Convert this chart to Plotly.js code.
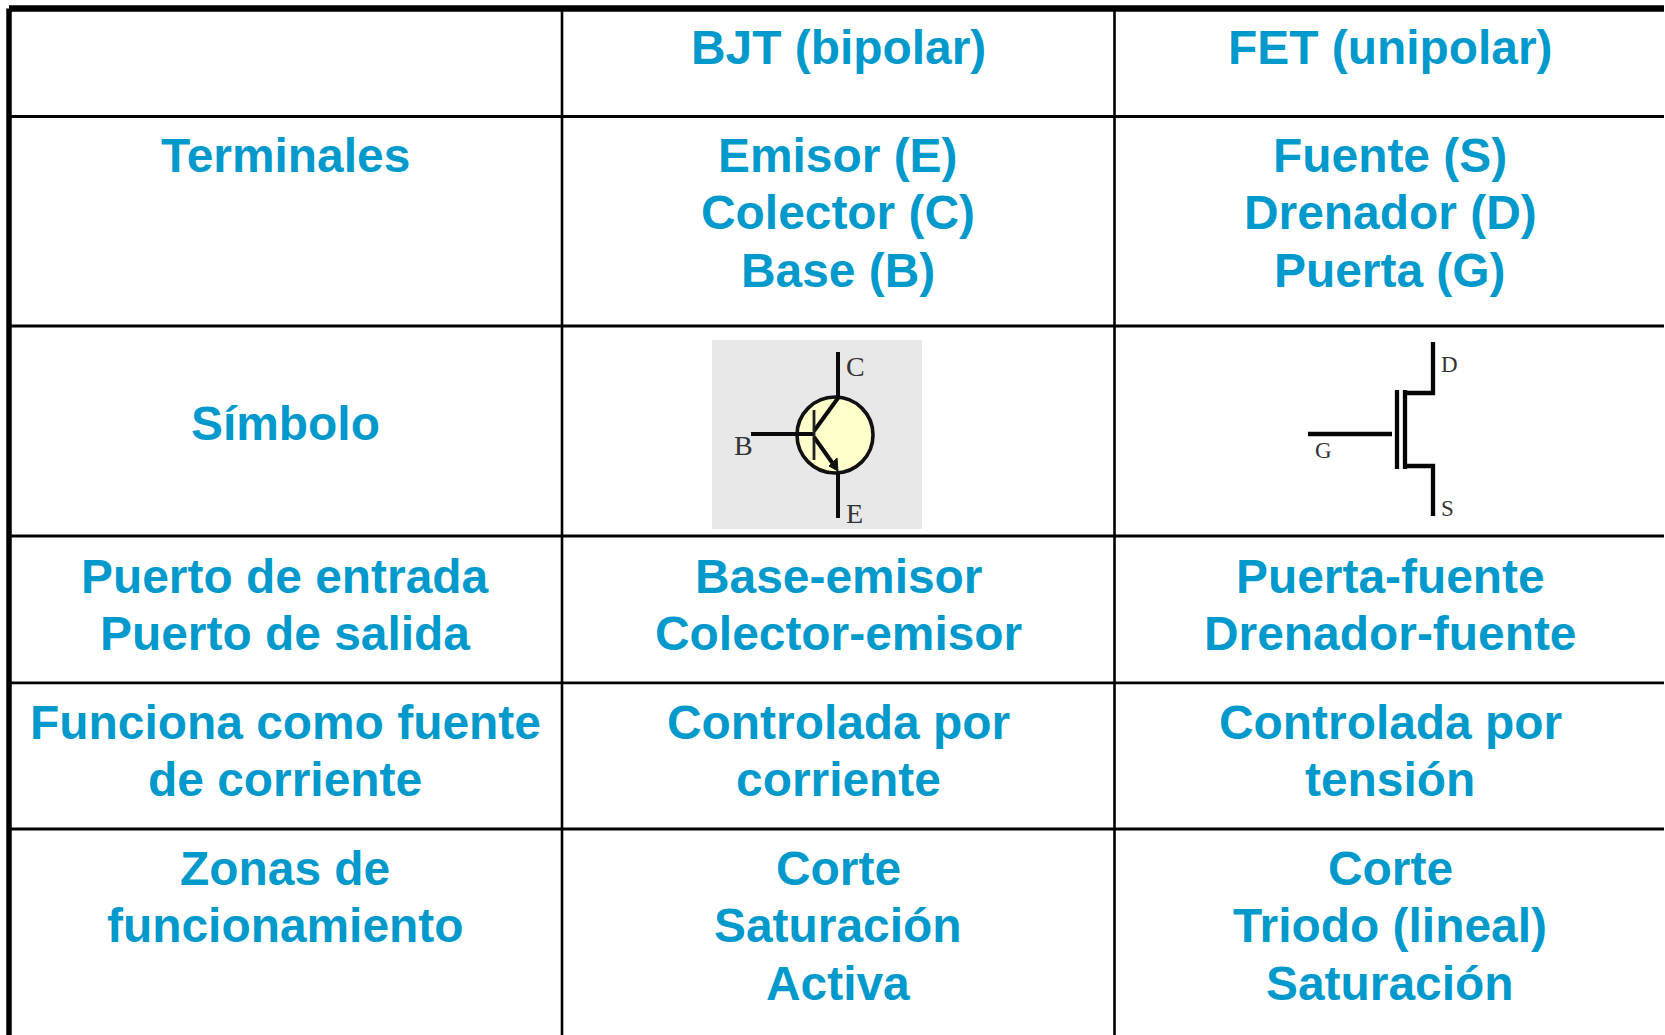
<!DOCTYPE html>
<html><head><meta charset="utf-8">
<script src="https://cdn.plot.ly/plotly-3.0.1.min.js"></script>
<style>html,body{margin:0;padding:0;background:#fff}#c{width:1665px;height:1035px}</style></head>
<body><div id="c"></div>
<script>
// Table content: one entry per text line
const col1 = ["Terminales","Símbolo","Puerto de entrada","Puerto de salida","Funciona como fuente","de corriente","Zonas de","funcionamiento"];
const col1Y = [155,423,576,633,722,779.5,868.5,925];
const col2 = ["BJT (bipolar)","Emisor (E)","Colector (C)","Base (B)","Base-emisor","Colector-emisor","Controlada por","corriente","Corte","Saturación","Activa"];
const col2Y = [47,155,212.5,270,576,633,722,779.5,868.5,925,983];
const col3 = ["FET (unipolar)","Fuente (S)","Drenador (D)","Puerta (G)","Puerta-fuente","Drenador-fuente","Controlada por","tensión","Corte","Triodo (lineal)","Saturación"];
const col3Y = [47,155,212.5,270,576,633,722,779.5,868.5,925,983];
const colX = [285,838,1390];

// Grid
const hRows = [116.5,326,536,682.8,829];
const vCols = [562,1114.5];
const gridTop = 8.5, gridLeft = 9, xMax = 1664, yMax = 1035;

// Symbols: polyline paths, [x list, y list]
const bjtLines = [
  [[838,838],[352,398]],
  [[838,838],[473,518]],
  [[751,814],[434,434]],
  [[814,838],[431,398]],
  [[814,836],[437,468]]
];
const bjtBar = [[814,814],[410,460]];
const bjtArrow = [[829,837,838,829],[466,458,471,466]];
const bjtLabels = [["C",855,366],["B",743,445],["E",854,513]];
const fetLines = [
  [[1308,1392],[434,434]],
  [[1397,1397],[390,469]],
  [[1405,1405],[390,469]],
  [[1405,1433,1433],[393,393,342]],
  [[1405,1433,1433],[466,466,516]]
];
const fetLabels = [["D",1449,364],["G",1323,450],["S",1447,508]];

const BLUE = "#0099cc", INK = "#000000";
const traces = [];
const seg = (x,y,w,c) => traces.push({type:"scatter",mode:"lines",x,y,line:{color:c||INK,width:w},hoverinfo:"skip",showlegend:false});

hRows.forEach(y => seg([gridLeft,xMax],[y,y],2.8));
vCols.forEach(x => seg([x,x],[gridTop,yMax],2.6));
seg([gridLeft,gridLeft],[gridTop,yMax],5.5);
seg([gridLeft,xMax],[gridTop,gridTop],6.5);

bjtLines.forEach(l => seg(l[0],l[1],4,"#0a0a0a"));
seg(bjtBar[0],bjtBar[1],2.8,"#222");
traces.push({type:"scatter",mode:"lines",x:bjtArrow[0],y:bjtArrow[1],fill:"toself",fillcolor:"#111",line:{color:"#111",width:1},hoverinfo:"skip",showlegend:false});
fetLines.forEach(l => seg(l[0],l[1],4.3,"#050505"));

const ann = [];
const addCol = (lines,ys,x) => lines.forEach((t,i) => ann.push({x,y:ys[i],text:"<b>"+t+"</b>",showarrow:false,xanchor:"center",yanchor:"middle",
  font:{family:"Liberation Sans, Arial, sans-serif",size:47.9,color:BLUE}}));
addCol(col1,col1Y,colX[0]); addCol(col2,col2Y,colX[1]); addCol(col3,col3Y,colX[2]);
const addLbl = (arr,size) => arr.forEach(l => ann.push({x:l[1],y:l[2],text:l[0],showarrow:false,xanchor:"center",yanchor:"middle",
  font:{family:"Liberation Serif, serif",size,color:"#333"}}));
addLbl(bjtLabels,28); addLbl(fetLabels,23);

const layout = {
  width:1665,height:1035,margin:{l:0,r:0,t:0,b:0},paper_bgcolor:"#fff",plot_bgcolor:"#fff",showlegend:false,
  xaxis:{range:[0,1665],visible:false,fixedrange:true},
  yaxis:{range:[1035,0],visible:false,fixedrange:true},
  annotations:ann,
  shapes:[
    {type:"rect",layer:"below",x0:712,x1:922,y0:340,y1:529,fillcolor:"#e8e8e8",line:{width:0}},
    {type:"circle",layer:"below",x0:797,x1:873,y0:397,y1:473,fillcolor:"#ffffcc",line:{color:"#111",width:3.6}}
  ]
};
Plotly.newPlot("c",traces,layout,{displayModeBar:false,staticPlot:true});
</script></body></html>
